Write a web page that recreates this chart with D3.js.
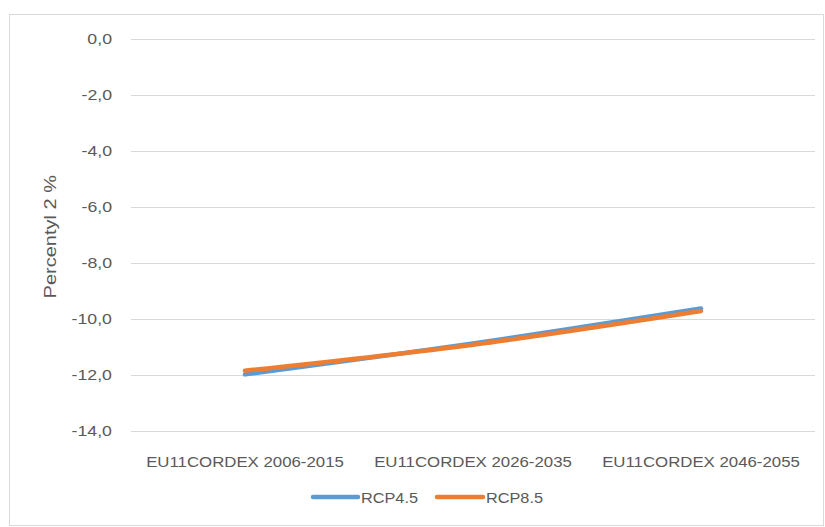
<!DOCTYPE html>
<html><head><meta charset="utf-8">
<script src="https://cdn.jsdelivr.net/npm/d3@7"></script>
<style>
body{margin:0;background:#fff;}
text{font-family:"Liberation Sans","Noto Sans",sans-serif;fill:#595959;}
</style></head>
<body>
<svg id="c" width="825" height="527"></svg>
<script>
const categories = ["EU11CORDEX 2006-2015","EU11CORDEX 2026-2035","EU11CORDEX 2046-2055"];
const rcp45 = [-11.98, -10.88, -9.63];
const rcp85 = [-11.85, -10.92, -9.72];
const yTicks = [0,-2,-4,-6,-8,-10,-12,-14];
const seriesNames = ["RCP4.5","RCP8.5"];
const colors = ["#5B9BD5","#ED7D31"];

const svg = d3.select("#c");
svg.append("rect").attr("x",9.5).attr("y",14.5).attr("width",814).attr("height",511)
  .attr("fill","#fff").attr("stroke","#D9D9D9");

const L=131, R=815, T=38.5, B=431;
const x = d3.scaleBand().domain(categories).range([L,R]);
const y = d3.scaleLinear().domain([-14,0]).range([B,T]);

const fmt = v => d3.format(".1f")(v).replace(".",",").replace("−","-");
function stretch(sel, k){
  sel.each(function(){
    const w = this.getComputedTextLength();
    d3.select(this).attr("textLength", w*k).attr("lengthAdjust","spacingAndGlyphs");
  });
}

svg.append("g").selectAll("line").data(yTicks).join("line")
  .attr("x1",L).attr("x2",R).attr("y1",d=>Math.round(y(d))+0.5).attr("y2",d=>Math.round(y(d))+0.5)
  .attr("stroke","#D9D9D9").attr("stroke-width",1);

const yl = svg.append("g").selectAll("text").data(yTicks).join("text")
  .attr("x",112).attr("y",d=>y(d)).attr("dy","0.36em").attr("text-anchor","end")
  .attr("font-size",15).text(d=>fmt(d));
stretch(yl, 1.18);

const xl = svg.append("g").selectAll("text").data(categories).join("text")
  .attr("x",d=>x(d)+x.bandwidth()/2).attr("y",467).attr("text-anchor","middle")
  .attr("font-size",15).text(d=>d);
stretch(xl, 1.12);

const tt = svg.append("text").attr("transform",`translate(56,${(T+B)/2+2}) rotate(-90)`)
  .attr("text-anchor","middle").attr("font-size",16).text("Percentyl 2 %");
stretch(tt, 1.25);

const line = d3.line().x((d,i)=>x(categories[i])+x.bandwidth()/2).y(d=>y(d)).curve(d3.curveCatmullRom.alpha(0.5));
[rcp45, rcp85].forEach((s,i)=>{
  svg.append("path").attr("d",line(s)).attr("fill","none").attr("stroke",colors[i])
    .attr("stroke-width",4.5).attr("stroke-linecap","round");
});

const leg = [{x1:313,x2:358,tx:361},{x1:437,x2:483,tx:486}];
leg.forEach((g,i)=>{
  svg.append("line").attr("x1",g.x1).attr("x2",g.x2).attr("y1",497).attr("y2",497)
    .attr("stroke",colors[i]).attr("stroke-width",4.5).attr("stroke-linecap","round");
  const t = svg.append("text").attr("x",g.tx).attr("y",497).attr("dy","0.36em").attr("font-size",15.5).text(seriesNames[i]);
  stretch(t, 1.05);
});
</script>
</body></html>
